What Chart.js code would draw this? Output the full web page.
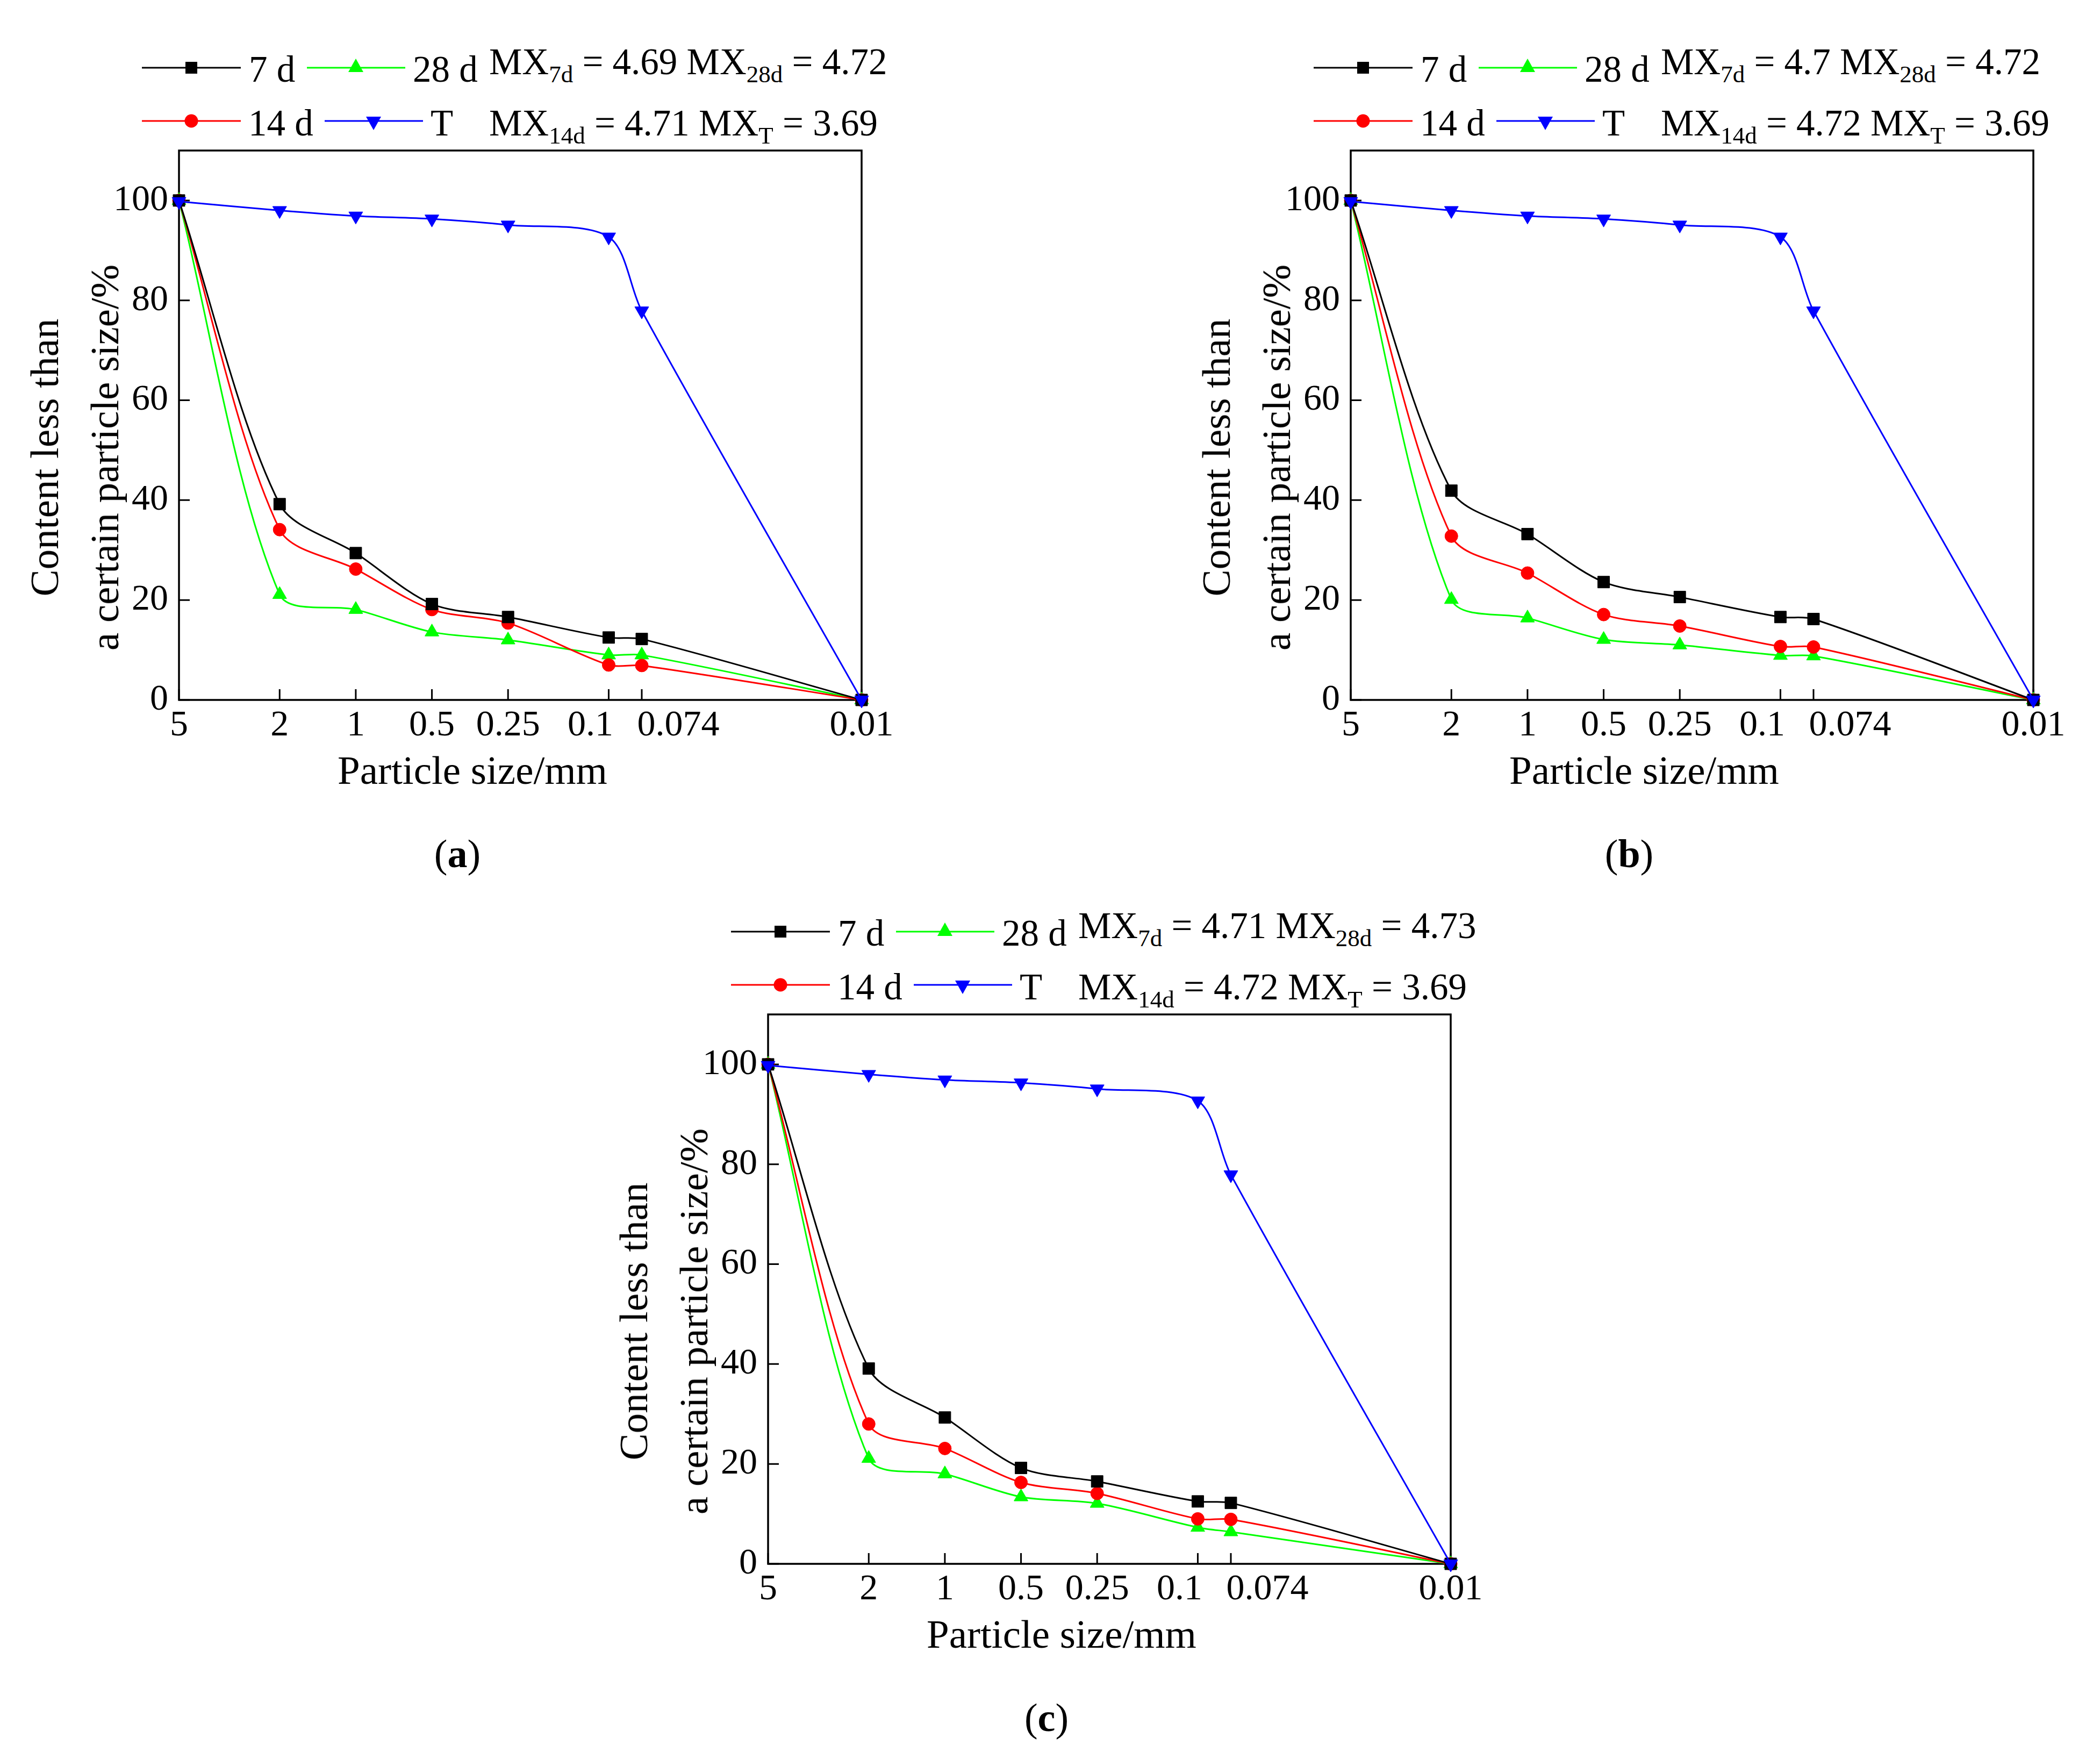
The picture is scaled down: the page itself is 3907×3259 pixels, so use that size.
<!DOCTYPE html>
<html>
<head>
<meta charset="utf-8">
<script src="https://cdn.jsdelivr.net/npm/chart.js@4.4.0/dist/chart.umd.min.js"></script>
<style>
html,body{margin:0;padding:0;background:#fff;}
body{width:3907px;height:3259px;position:relative;overflow:hidden;font-family:"Liberation Serif","Times New Roman",serif;color:#000;}
.abs{position:absolute;white-space:nowrap;}
canvas{position:absolute;}
.lg{font-size:69px;line-height:68px;}
.lg sub{font-size:45px;line-height:0;vertical-align:-15px;}
.ttl{font-size:75px;}
.cap{font-size:74px;line-height:74px;}
</style>
</head>
<body>
<script>
// ---- data ----
const sizes = [5, 2, 1, 0.5, 0.25, 0.1, 0.074, 0.01];
const xTickLabels = ['5', '2', '1', '0.5', '0.25', '0.1\u2002\u2002', '\u2002\u2002\u2002\u20020.074', '0.01'];
const yTicks = [0, 20, 40, 60, 80, 100];
const seriesNames = ['7 d', '14 d', '28 d', 'T'];

const a7d  = [100, 39.2, 29.4, 19.2, 16.6, 12.5, 12.2, 0];
const a14d = [100, 34.1, 26.2, 18.1, 15.4, 7.0, 6.9, 0];
const a28d = [100, 21.1, 18.1, 13.6, 12.0, 9.0, 9.0, 0];
const aT   = [99.8, 98.0, 96.9, 96.3, 95.1, 92.7, 77.9, 0];
const aMX  = ['4.69', '4.71', '4.72', '3.69'];

const b7d  = [100, 41.9, 33.2, 23.6, 20.6, 16.6, 16.2, 0];
const b14d = [100, 32.8, 25.4, 17.1, 14.8, 10.7, 10.6, 0];
const b28d = [100, 20.1, 16.4, 12.1, 11.0, 8.9, 8.8, 0];
const bT   = [99.8, 98.0, 96.9, 96.3, 95.1, 92.7, 77.9, 0];
const bMX  = ['4.7', '4.72', '4.72', '3.69'];

const c7d  = [100, 39.1, 29.3, 19.2, 16.5, 12.5, 12.2, 0];
const c14d = [100, 28.0, 23.1, 16.3, 14.1, 9.0, 8.9, 0];
const c28d = [100, 21.1, 18.0, 13.4, 12.1, 7.3, 6.4, 0];
const cT   = [99.8, 98.0, 96.9, 96.3, 95.1, 92.7, 77.9, 0];
const cMX  = ['4.71', '4.72', '4.73', '3.69'];

const xTitle = 'Particle size/mm';
const yTitle = ['Content less than', 'a certain particle size/%'];

// ---- styles ----
const FONT = '"Liberation Serif","Times New Roman",serif';
const colors = {k:'#000000', r:'#ff0000', g:'#00ff00', b:'#0000ff'};

const framePlugin = {
  id: 'frame',
  beforeDatasetsDraw(chart) {
    const {ctx, chartArea: a, scales: {x, y}} = chart;
    ctx.save();
    ctx.strokeStyle = '#000';
    ctx.lineWidth = 3.5;
    ctx.strokeRect(a.left, a.top, a.right - a.left, a.bottom - a.top);
    ctx.lineWidth = 3;
    ctx.beginPath();
    x.ticks.forEach(t => { const p = x.getPixelForValue(t.value); ctx.moveTo(p, a.bottom); ctx.lineTo(p, a.bottom - 20); });
    y.ticks.forEach(t => { const p = y.getPixelForValue(t.value); ctx.moveTo(a.left, p); ctx.lineTo(a.left + 20, p); });
    ctx.stroke();
    ctx.restore();
  }
};

function el(tag, cls, css, html) {
  const e = document.createElement(tag);
  if (cls) e.className = cls;
  Object.assign(e.style, css);
  if (html !== undefined) e.innerHTML = html;
  document.body.appendChild(e);
  return e;
}

function ds(label, vals, color, style, radius, order, rot) {
  return {
    label, data: sizes.map((x, i) => ({x, y: vals[i]})),
    borderColor: color, backgroundColor: color, pointBackgroundColor: color, pointBorderColor: color,
    borderWidth: 3, pointStyle: style, pointRadius: radius, pointBorderWidth: 1, pointRotation: rot || 0,
    tension: 0.3, clip: false, fill: false, order
  };
}

function makePanel(dx, dy, s7, s14, s28, sT, mx, capLetter) {
  const cv = document.createElement('canvas');
  cv.width = 1700; cv.height = 1222;
  cv.style.left = dx + 'px'; cv.style.top = (dy + 180) + 'px';
  cv.style.width = '1700px'; cv.style.height = '1222px';
  document.body.appendChild(cv);
  new Chart(cv.getContext('2d'), {
    type: 'line',
    data: {datasets: [
      ds(seriesNames[0], s7, colors.k, 'rect', 15.5, 1),
      ds(seriesNames[1], s14, colors.r, 'circle', 12, 2),
      ds(seriesNames[2], s28, colors.g, 'triangle', 15, 3),
      ds(seriesNames[3], sT, colors.b, 'triangle', 15, 0, 180)
    ]},
    options: {
      responsive: false, animation: false, devicePixelRatio: 1,
      layout: {padding: {top: 100, right: 97, bottom: 20, left: 0}},
      plugins: {legend: {display: false}, tooltip: {enabled: false}},
      scales: {
        x: {
          type: 'logarithmic', reverse: true, min: 0.01, max: 5,
          afterBuildTicks: s => { s.ticks = sizes.map(v => ({value: v})); },
          afterFit: s => { s.height = 80; },
          grid: {display: false, drawTicks: false}, border: {display: false},
          ticks: {autoSkip: false, maxRotation: 0, minRotation: 0, padding: 7, color: '#000',
                  font: {family: FONT, size: 68}, callback: (v, i) => xTickLabels[i]}
        },
        y: {
          type: 'linear', min: 0, max: 110,
          afterBuildTicks: s => { s.ticks = yTicks.map(v => ({value: v})); },
          afterFit: s => { s.width = 333; },
          grid: {display: false, drawTicks: false}, border: {display: false},
          ticks: {padding: 20, color: '#000', font: {family: FONT, size: 68}, callback: v => String(v)}
        }
      }
    },
    plugins: [framePlugin]
  });

  // legend samples
  const svgNS = 'http://www.w3.org/2000/svg';
  const svg = document.createElementNS(svgNS, 'svg');
  svg.setAttribute('width', 900); svg.setAttribute('height', 300);
  Object.assign(svg.style, {position: 'absolute', left: dx + 'px', top: dy + 'px'});
  svg.innerHTML =
    `<line x1="264" y1="126" x2="448" y2="126" stroke="${colors.k}" stroke-width="3"/>` +
    `<rect x="345" y="115" width="22" height="22" fill="${colors.k}"/>` +
    `<line x1="571" y1="126" x2="754" y2="126" stroke="${colors.g}" stroke-width="3"/>` +
    `<polygon points="662,109 676,134 648,134" fill="${colors.g}"/>` +
    `<line x1="264" y1="225" x2="448" y2="225" stroke="${colors.r}" stroke-width="3"/>` +
    `<circle cx="356" cy="225" r="12.5" fill="${colors.r}"/>` +
    `<line x1="604" y1="225" x2="787" y2="225" stroke="${colors.b}" stroke-width="3"/>` +
    `<polygon points="695,242 681,217 709,217" fill="${colors.b}"/>`;
  document.body.appendChild(svg);

  el('div', 'abs lg', {left: (dx + 463) + 'px', top: (dy + 95) + 'px'}, seriesNames[0]);
  el('div', 'abs lg', {left: (dx + 768) + 'px', top: (dy + 95) + 'px'}, seriesNames[2]);
  el('div', 'abs lg', {left: (dx + 462) + 'px', top: (dy + 195) + 'px'}, seriesNames[1]);
  el('div', 'abs lg', {left: (dx + 801) + 'px', top: (dy + 195) + 'px'}, seriesNames[3]);
  el('div', 'abs lg', {left: (dx + 910) + 'px', top: (dy + 81) + 'px'},
     `MX<sub>7d</sub> = ${mx[0]} MX<sub>28d</sub> = ${mx[2]}`);
  el('div', 'abs lg', {left: (dx + 910) + 'px', top: (dy + 195) + 'px'},
     `MX<sub>14d</sub> = ${mx[1]} MX<sub>T</sub> = ${mx[3]}`);

  // axis titles
  el('div', 'abs ttl', {left: (dx + 139) + 'px', top: (dy + 851) + 'px', lineHeight: '112px', textAlign: 'center',
     transform: 'translate(-50%,-50%) rotate(-90deg)'}, yTitle.join('<br>'));
  el('div', 'abs ttl', {left: (dx + 879) + 'px', top: (dy + 1432) + 'px', lineHeight: '75px',
     transform: 'translate(-50%,-50%)'}, xTitle);
  // caption
  el('div', 'abs cap', {left: (dx + 851) + 'px', top: (dy + 1588) + 'px', transform: 'translate(-50%,-50%)'},
     `(<b>${capLetter}</b>)`);
}

makePanel(0, 0, a7d, a14d, a28d, aT, aMX, 'a');
makePanel(2180, 0, b7d, b14d, b28d, bT, bMX, 'b');
makePanel(1096, 1607, c7d, c14d, c28d, cT, cMX, 'c');
</script>
</body>
</html>
